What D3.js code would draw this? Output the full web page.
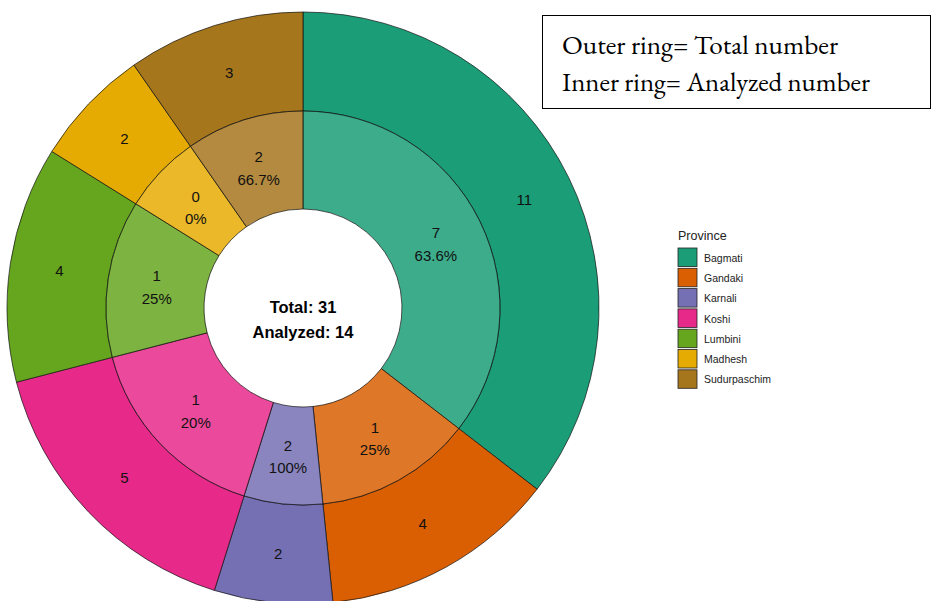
<!DOCTYPE html>
<html><head><meta charset="utf-8">
<script src="https://cdn.jsdelivr.net/npm/d3@7"></script>
<style>body{margin:0;background:#fff}svg{display:block}</style>
</head><body>
<script>
const provinces = ["Bagmati","Gandaki","Karnali","Koshi","Lumbini","Madhesh","Sudurpaschim"];
const totals = [11,4,2,5,4,2,3];
const analyzed = [7,1,2,1,1,0,2];
const colors = ["#1B9E77","#D95F02","#7570B3","#E7298A","#66A61E","#E6AB02","#A6761D"];
const legendTitle = "Province";
const noteLines = ["Outer ring= Total number","Inner ring= Analyzed number"];

const W=931,H=601;
const svg=d3.select("body").append("svg").attr("width",W).attr("height",H);
const cx=303, cy=308;
const rHole=99, rMid=197, rOut=296;

const data = provinces.map((p,i)=>({p, total:totals[i], an:analyzed[i], color:colors[i]}));
const pie=d3.pie().sort(null).value(d=>d.total);
const arcs=pie(data);
const g=svg.append("g").attr("transform",`translate(${cx},${cy})`);
const outerArc=d3.arc().innerRadius(rMid).outerRadius(rOut);
const innerArc=d3.arc().innerRadius(rHole).outerRadius(rMid);

g.selectAll("path.outer").data(arcs).join("path").attr("class","outer")
 .attr("d",outerArc).attr("fill",d=>d.data.color).attr("stroke","#111").attr("stroke-width",0.7);
g.selectAll("path.inner").data(arcs).join("path").attr("class","inner")
 .attr("d",innerArc).attr("fill",d=>d.data.color).attr("fill-opacity",0.85).attr("stroke","#111").attr("stroke-width",0.7);

const font="'Liberation Sans', Arial, sans-serif";
const rO=(rMid+rOut)/2, rI=(rHole+rMid)/2;
g.selectAll("text.ol").data(arcs).join("text").attr("class","ol")
 .attr("transform",d=>{const c=d3.arc().innerRadius(rO).outerRadius(rO).centroid(d);return `translate(${c})`;})
 .attr("text-anchor","middle").attr("dominant-baseline","central")
 .attr("font-family",font).attr("font-size",15).attr("fill","#111")
 .text(d=>d.data.total);

const fmt=v=>{const s=(Math.round(v*10)/10).toFixed(1);return s.endsWith(".0")?s.slice(0,-2)+"%":s+"%";};
const il=g.selectAll("g.il").data(arcs).join("g").attr("class","il")
 .attr("transform",d=>{const c=d3.arc().innerRadius(rI).outerRadius(rI).centroid(d);return `translate(${c})`;});
il.append("text").attr("y",-10).attr("text-anchor","middle").attr("dominant-baseline","central")
 .attr("font-family",font).attr("font-size",15).attr("fill","#111").text(d=>d.data.an);
il.append("text").attr("y",12.5).attr("text-anchor","middle").attr("dominant-baseline","central")
 .attr("font-family",font).attr("font-size",15).attr("fill","#111").text(d=>fmt(d.data.an/d.data.total*100));

const sumT=d3.sum(totals), sumA=d3.sum(analyzed);
g.append("text").attr("y",-1.3).attr("text-anchor","middle").attr("dominant-baseline","central")
 .attr("font-family",font).attr("font-weight","bold").attr("font-size",16.5).attr("fill","#000").text(`Total: ${sumT}`);
g.append("text").attr("y",23.7).attr("text-anchor","middle").attr("dominant-baseline","central")
 .attr("font-family",font).attr("font-weight","bold").attr("font-size",16.5).attr("fill","#000").text(`Analyzed: ${sumA}`);

// legend
const lg=svg.append("g");
lg.append("text").attr("x",678).attr("y",236).attr("dominant-baseline","central")
 .attr("font-family",font).attr("font-size",12.5).attr("fill","#222").text(legendTitle);
const ky=d3.scaleBand().domain(provinces).range([247.5,247.5+20.3*7]);
provinces.forEach((p,i)=>{
  lg.append("rect").attr("x",678).attr("y",ky(p)+0.5).attr("width",19).attr("height",18.5)
    .attr("fill",colors[i]).attr("stroke","#222").attr("stroke-width",0.8);
  lg.append("text").attr("x",704).attr("y",ky(p)+ky.bandwidth()/2).attr("dominant-baseline","central")
    .attr("font-family",font).attr("font-size",10.5).attr("fill","#222").text(p);
});

// note box
svg.append("rect").attr("x",542.5).attr("y",15.5).attr("width",388).attr("height",93)
 .attr("fill","#fff").attr("stroke","#000").attr("stroke-width",1);
const targets=[276,308];
const ys=[54,91];
noteLines.forEach((t,i)=>{
  const tx=svg.append("text").attr("x",562).attr("y",ys[i])
   .attr("font-family","'EB Garamond','Liberation Serif','DejaVu Serif',serif").attr("font-size",26).attr("fill","#000").text(t);
  tx.attr("textLength",targets[i]).attr("lengthAdjust","spacingAndGlyphs");
});
</script>
</body></html>
